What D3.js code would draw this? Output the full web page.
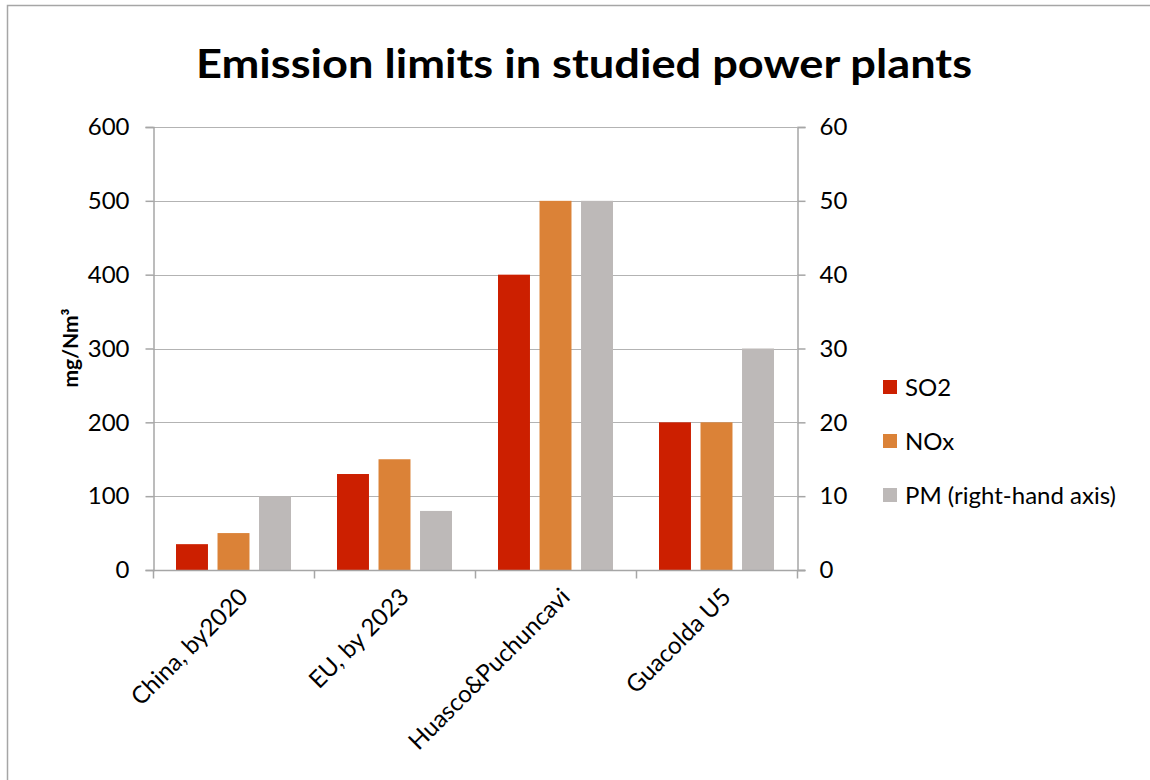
<!DOCTYPE html>
<html>
<head>
<meta charset="utf-8">
<script src="https://cdn.jsdelivr.net/npm/d3@7"></script>
<style>
  html, body { margin: 0; padding: 0; background: #fff; }
  svg { display: block; }
  text { font-family: Lato, "Open Sans", sans-serif; fill: #000; }
</style>
</head>
<body>
<svg id="chart" width="1150" height="780"></svg>
<script>
// Emission limits by jurisdiction / plant
const categories = ["China, by2020", "EU, by 2023", "Huasco&Puchuncavi", "Guacolda U5"];
const so2 = [35, 130, 400, 200];      // mg/Nm³, left axis
const nox = [50, 150, 500, 200];      // mg/Nm³, left axis
const pm  = [10, 8, 50, 30];          // mg/Nm³, right axis
const leftTicks = [0, 100, 200, 300, 400, 500, 600];
const rightTicks = [0, 10, 20, 30, 40, 50, 60];
const seriesNames = ["SO2", "NOx", "PM (right-hand axis)"];
const seriesColors = ["#CC1F00", "#DB8237", "#BDB9B8"];

const svg = d3.select("#chart");
const plot = { left: 153, right: 797, top: 127, bottom: 570 };

// Outer frame (left and top edges)
svg.append("path")
  .attr("d", "M7.5,780 L7.5,5.5 L1150,5.5")
  .attr("fill", "none").attr("stroke", "#a6a6a6").attr("stroke-width", 1.5);

// Title
svg.append("text")
  .attr("x", 584).attr("y", 78)
  .attr("text-anchor", "middle")
  .attr("font-size", 40).attr("font-weight", "bold")
  .attr("textLength", 776).attr("lengthAdjust", "spacingAndGlyphs")
  .text("Emission limits in studied power plants");

const x0 = d3.scaleBand().domain(categories).range([plot.left, plot.right]).paddingInner(0).paddingOuter(0);
const x1 = d3.scaleBand().domain(d3.range(3)).range([23, x0.bandwidth() - 23]).paddingInner(0.23);
const yL = d3.scaleLinear().domain([0, 600]).range([plot.bottom, plot.top]);
const yR = d3.scaleLinear().domain([0, 60]).range([plot.bottom, plot.top]);

// Gridlines
svg.append("g").selectAll("line").data(leftTicks.slice(1)).join("line")
  .attr("x1", plot.left).attr("x2", plot.right)
  .attr("y1", d => Math.round(yL(d)) + 0.5).attr("y2", d => Math.round(yL(d)) + 0.5)
  .attr("stroke", "#b3b3b3").attr("stroke-width", 1);

// Bars
const series = [so2, nox, pm];
const scales = [yL, yL, yR];
series.forEach((vals, si) => {
  svg.append("g").selectAll("rect").data(vals).join("rect")
    .attr("x", (d, i) => x0(categories[i]) + x1(si))
    .attr("width", x1.bandwidth())
    .attr("y", d => scales[si](d))
    .attr("height", d => plot.bottom - scales[si](d))
    .attr("fill", seriesColors[si]);
});

// Left axis
const axL = svg.append("g").attr("transform", `translate(${plot.left + 0.5},0)`)
  .call(d3.axisLeft(yL).tickValues(leftTicks).tickSize(8).tickPadding(16));
// Right axis
const axR = svg.append("g").attr("transform", `translate(${plot.right + 0.5},0)`)
  .call(d3.axisRight(yR).tickValues(rightTicks).tickSize(8).tickPadding(14));
[axL, axR].forEach(ax => {
  ax.select(".domain").attr("stroke", "#a6a6a6").attr("stroke-width", 1.5);
  ax.selectAll(".tick line").attr("stroke", "#a6a6a6").attr("stroke-width", 1.5);
  ax.selectAll(".tick text").attr("font-size", 24).attr("font-family", "Lato, sans-serif").attr("fill", "#000");
});

// Category axis
const axB = svg.append("g").attr("transform", `translate(0,${plot.bottom + 0.5})`);
axB.append("line").attr("x1", plot.left).attr("x2", plot.right + 8)
  .attr("stroke", "#a6a6a6").attr("stroke-width", 1.5);
const bounds = categories.map(c => x0(c)).concat([plot.right]);
axB.selectAll("line.tk").data(bounds).join("line").attr("class", "tk")
  .attr("x1", d => d + 0.5).attr("x2", d => d + 0.5).attr("y1", 0).attr("y2", 8)
  .attr("stroke", "#a6a6a6").attr("stroke-width", 1.5);
axB.selectAll("text").data(categories).join("text")
  .attr("transform", d => `translate(${x0(d) + x0.bandwidth() / 2 + 4},${16}) rotate(-45)`)
  .attr("text-anchor", "end").attr("dy", "0.7em")
  .attr("font-size", 24)
  .text(d => d);

// Left axis title
svg.append("text")
  .attr("transform", "translate(78,348) rotate(-90)")
  .attr("text-anchor", "middle")
  .attr("font-size", 21).attr("font-weight", "bold")
  .text("mg/Nm³");

// Legend
const lg = svg.append("g").attr("transform", "translate(883,380)");
seriesNames.forEach((n, i) => {
  lg.append("rect").attr("x", 0).attr("y", i * 54).attr("width", 14).attr("height", 14)
    .attr("fill", seriesColors[i]);
  lg.append("text").attr("x", 22).attr("y", i * 54 + 16)
    .attr("font-size", 24).text(n);
});
</script>
</body>
</html>
